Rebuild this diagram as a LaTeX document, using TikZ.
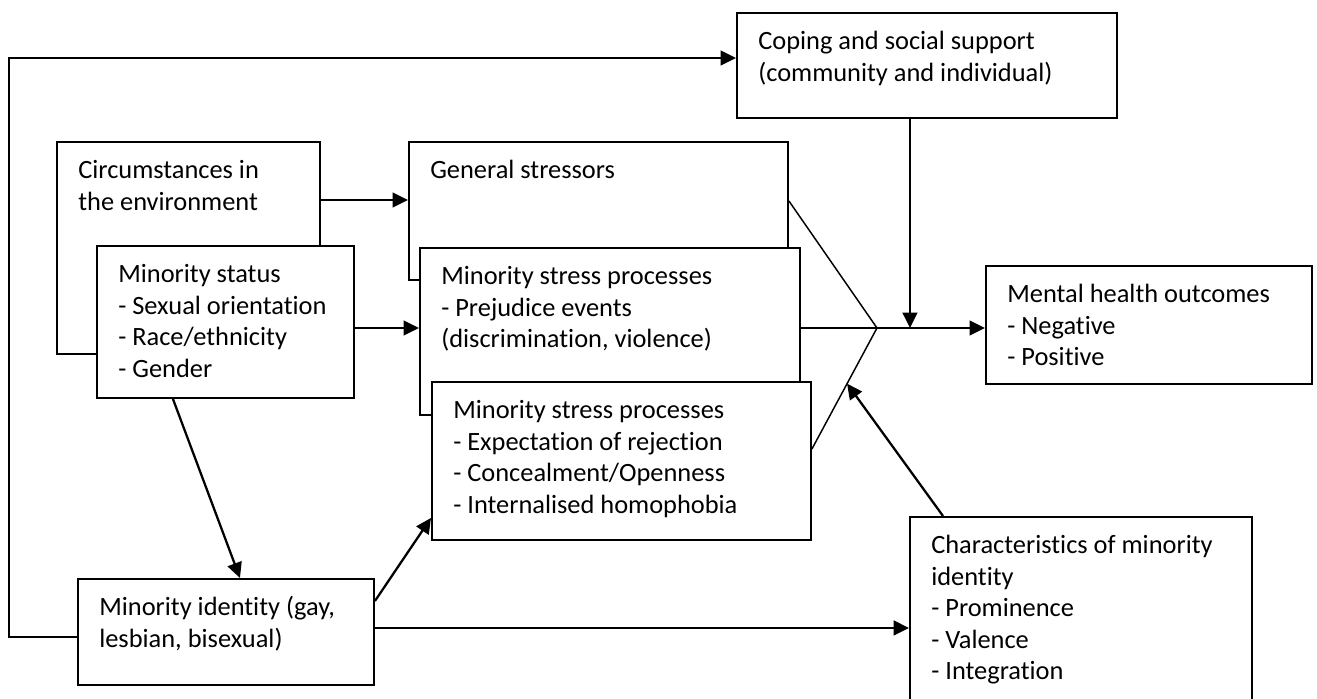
\documentclass[tikz,border=0pt]{standalone}
\usepackage{fontspec}
\setmainfont{Carlito}[Ligatures={TeX,NoCommon}]
\usepackage{tikz}
\usetikzlibrary{arrows.meta, calc}
\newcommand{\blockfont}{\fontsize{19.8}{23.6}\selectfont}
% box contents: width, height, lines
\newcommand{\blocktext}[3]{\parbox[t][\dimexpr#2-22.5pt\relax][t]{\dimexpr#1-32pt\relax}{\strut#3}}
\tikzset{
  block/.style={rectangle, draw=black, fill=white, line width=1.45pt, anchor=north west, inner xsep=16pt, inner ysep=11.25pt, font=\blockfont},
  arrowline/.style={-{Triangle[length=11.5pt, width=11pt]}, line width=1.7pt},
  thinline/.style={line width=1.1pt},
}
\begin{document}
\begin{tikzpicture}[x=0.75pt, y=-0.75pt]
\useasboundingbox (0,0) rectangle (1317,699);

\node[block] (coping) at (736,12) {\blocktext{285pt}{78.75pt}{Coping and social support\\(community and individual)}};

\node[block] (circ) at (56,141) {\blocktext{197.25pt}{159pt}{Circumstances in\\the environment}};
\node[block] (status) at (96,245) {\blocktext{192.75pt}{114pt}{Minority status\\- Sexual orientation\\- Race/ethnicity\\- Gender}};

\node[block] (general) at (408,141) {\blocktext{284.25pt}{103.5pt}{General stressors}};
\node[block] (ms1) at (419,247) {\blocktext{285pt}{125.25pt}{Minority stress processes\\- Prejudice events\\(discrimination, violence)}};
\node[block] (ms2) at (431,381) {\blocktext{284.25pt}{118.5pt}{Minority stress processes\\- Expectation of rejection\\- Concealment/Openness\\- Internalised homophobia}};

\node[block] (mental) at (985,265) {\blocktext{244.5pt}{88.5pt}{Mental health outcomes\\- Negative\\- Positive}};

\node[block] (identity) at (77,578) {\blocktext{222pt}{79.5pt}{Minority identity (gay,\\lesbian, bisexual)}};
\node[block] (charac) at (909,516) {\blocktext{256.5pt}{150pt}{Characteristics of minority\\identity\\- Prominence\\- Valence\\- Integration}};

\coordinate (loop) at (9,58);
\coordinate (meet) at (877,328);
\coordinate (idout) at ([yshift=3pt]identity.east);
\coordinate (ms2out) at ([yshift=9pt]ms2.east);
\coordinate (copout) at ([xshift=-12.75pt]coping.south);

\draw[arrowline] ([yshift=-3.75pt]identity.west) -| (loop) -- (loop -| coping.west);
\draw[arrowline] ([yshift=-44.25pt]circ.north east) -- ([yshift=-44.25pt]general.north west);
\draw[arrowline] (status.east |- meet) -- (ms1.west |- meet);
\draw[arrowline] ([xshift=-39.4pt]status.south) -- ([xshift=10.5pt]identity.north);
\draw[arrowline] ([yshift=-17.25pt]identity.north east) -- ([yshift=17.25pt]ms2.south west);
\draw[arrowline] (idout) -- (idout -| charac.west);

\draw[thinline] ([yshift=-45pt]general.north east) -- (meet);
\draw[thinline] (ms1.east |- meet) -- (meet);
\draw[thinline] (ms2out) -- (meet);
\draw[arrowline] (meet) -- (meet -| mental.west);
\draw[arrowline] (copout) -- (copout |- meet);
\draw[arrowline] ([xshift=25.5pt]charac.north west) -- ($(ms2out)!0.54!(meet)$);
\end{tikzpicture}
\end{document}
